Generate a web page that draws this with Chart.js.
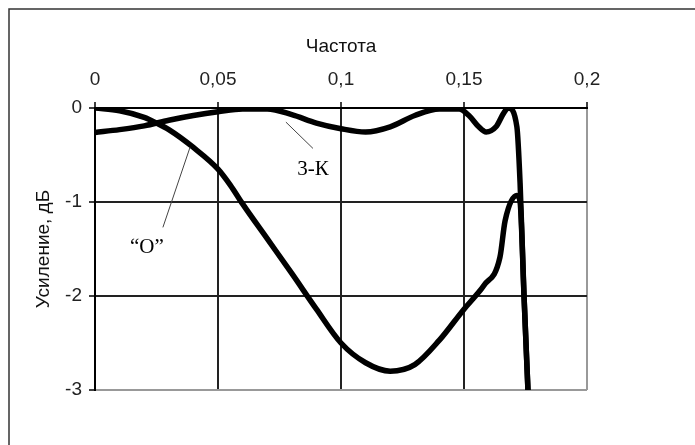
<!DOCTYPE html>
<html lang="ru">
<head>
<meta charset="UTF-8">
<title>Усиление</title>
<script src="https://cdn.jsdelivr.net/npm/chart.js"></script>
<style>
  html, body { margin: 0; padding: 0; background: #fff; }
  canvas { display: block; }
</style>
</head>
<body>
<canvas id="gainChart" width="695" height="445"></canvas>
<script>
// data
var xTicks = [0, 0.05, 0.1, 0.15, 0.2];
var yTicks = [0, -1, -2, -3];

// curve "O"
var freqO = [0, 0.01, 0.02, 0.025, 0.03, 0.04, 0.05, 0.055, 0.06, 0.07, 0.08, 0.09, 0.1, 0.11, 0.12, 0.13, 0.14, 0.15, 0.155, 0.158, 0.1646, 0.1667, 0.1715, 0.1728, 0.1744, 0.176];
var gainO = [0, -0.03, -0.1, -0.16, -0.23, -0.42, -0.65, -0.82, -1.02, -1.39, -1.76, -2.14, -2.5, -2.71, -2.8, -2.73, -2.47, -2.14, -1.99, -1.89, -1.59, -1.2, -0.93, -1.0, -2.0, -3.0];

// curve 3-K
var freqK = [0, 0.01, 0.02, 0.03, 0.04, 0.05, 0.06, 0.07, 0.08, 0.09, 0.1, 0.11, 0.12, 0.13, 0.14, 0.148, 0.152, 0.156, 0.159, 0.163, 0.166, 0.168, 0.1715, 0.1728, 0.1744, 0.176];
var gainK = [-0.26, -0.23, -0.19, -0.13, -0.08, -0.04, -0.01, -0.01, -0.07, -0.16, -0.22, -0.255, -0.2, -0.08, -0.01, -0.01, -0.08, -0.2, -0.255, -0.2, -0.06, 0, -0.2, -0.8, -2.0, -3.0];

function toPoints(xs, ys) {
    return xs.map(function (x, i) { return { x: x, y: ys[i] }; });
}

function fmt(v) {
    return String(v).replace('.', ',');
}

// outer frame round the whole chart
var framePlugin = {
    id: 'frame',
    beforeDraw: function (chart) {
        var c = chart.ctx;
        c.save();
        c.strokeStyle = '#333';
        c.lineWidth = 1.5;
        c.strokeRect(9, 9, 900, 700);
        c.restore();
    }
};

// curve names with leader lines
var labelPlugin = {
    id: 'curveLabels',
    afterDatasetsDraw: function (chart) {
        var c = chart.ctx;
        var xs = chart.scales.x, ys = chart.scales.y;
        var labels = [
            { text: '3-К', from: [0.0776, -0.15], to: [0.0886, -0.43], at: [0.0886, -0.65] },
            { text: '\u201CО\u201D', from: [0.0386, -0.42], to: [0.0276, -1.27], at: [0.0211, -1.48] }
        ];
        c.save();
        labels.forEach(function (l) {
            c.strokeStyle = '#444';
            c.lineWidth = 1;
            c.beginPath();
            c.moveTo(xs.getPixelForValue(l.from[0]), ys.getPixelForValue(l.from[1]));
            c.lineTo(xs.getPixelForValue(l.to[0]), ys.getPixelForValue(l.to[1]));
            c.stroke();
            c.fillStyle = '#000';
            c.font = '21px "Liberation Serif", "Times New Roman", serif';
            c.textAlign = 'center';
            c.textBaseline = 'middle';
            c.fillText(l.text, xs.getPixelForValue(l.at[0]), ys.getPixelForValue(l.at[1]));
        });
        c.restore();
    }
};

var sans = { family: '"Liberation Sans", Arial, sans-serif', size: 19 };

var ctx = document.getElementById('gainChart').getContext('2d');
var gainChart = new Chart(ctx, {
    type: 'line',
    data: {
        datasets: [{
            label: '"О"',
            data: toPoints(freqO, gainO),
            borderColor: '#000',
            borderWidth: 5.5,
            pointRadius: 0,
            cubicInterpolationMode: 'monotone',
            fill: false
        }, {
            label: '3-К',
            data: toPoints(freqK, gainK),
            borderColor: '#000',
            borderWidth: 5.5,
            pointRadius: 0,
            cubicInterpolationMode: 'monotone',
            fill: false
        }]
    },
    options: {
        responsive: false,
        animation: false,
        layout: { padding: { left: 0, top: 0, right: 108, bottom: 55 } },
        plugins: {
            legend: { display: false },
            tooltip: { enabled: false }
        },
        scales: {
            x: {
                type: 'linear',
                position: 'top',
                min: 0,
                max: 0.2,
                afterBuildTicks: function (s) {
                    s.ticks = xTicks.map(function (v) { return { value: v }; });
                },
                afterFit: function (s) { s.height = 108; },
                ticks: {
                    color: '#222',
                    font: sans,
                    padding: 11,
                    maxRotation: 0,
                    callback: function (v) { return fmt(v); }
                },
                grid: {
                    color: function (c) { return c.tick && c.tick.value === 0.2 ? '#999' : '#222'; },
                    lineWidth: 2,
                    tickColor: '#000',
                    tickWidth: 1.5,
                    tickLength: 6
                },
                border: { color: '#000', width: 2 },
                title: {
                    display: true,
                    text: 'Частота',
                    color: '#111',
                    font: sans,
                    padding: { top: 35, bottom: 0 }
                }
            },
            y: {
                min: -3,
                max: 0,
                afterBuildTicks: function (s) {
                    s.ticks = yTicks.map(function (v) { return { value: v }; });
                },
                afterFit: function (s) { s.width = 95; },
                ticks: {
                    color: '#222',
                    font: sans,
                    padding: 7,
                    callback: function (v) { return fmt(v); }
                },
                grid: {
                    color: function (c) { return c.tick && c.tick.value === -3 ? '#999' : '#222'; },
                    lineWidth: 2,
                    tickColor: '#000',
                    tickWidth: 1.5,
                    tickLength: 6
                },
                border: { color: '#000', width: 2 },
                title: {
                    display: true,
                    text: 'Усиление, дБ',
                    color: '#111',
                    font: sans,
                    padding: { top: 32, bottom: 0 }
                }
            }
        }
    },
    plugins: [framePlugin, labelPlugin]
});
</script>
</body>
</html>
